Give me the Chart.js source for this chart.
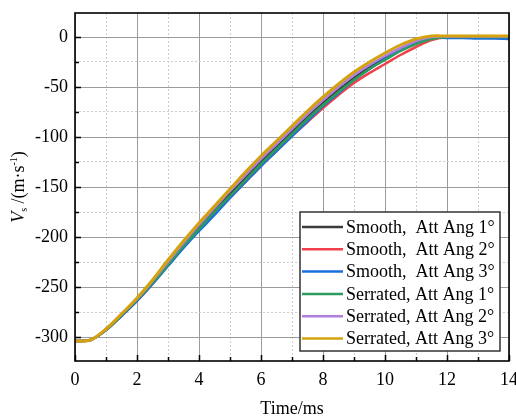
<!DOCTYPE html>
<html lang="en">
<head>
    <meta charset="UTF-8">
    <title>Vs vs Time</title>
    <style>
        html, body {
            margin: 0;
            padding: 0;
            background-color: white;
        }
        .chart-container {
            position: relative;
            width: 516px;
            height: 419px;
        }
    </style>
</head>
<body>
    <div class="chart-container">
        <canvas id="lineChart" width="516" height="419"></canvas>
    </div>

    <script src="https://cdn.jsdelivr.net/npm/chart.js"></script>
    <script>
        // Data
        const timeMs = [0, 0.5, 1, 1.5, 2, 2.5, 3, 3.5, 4, 4.5, 5, 5.5, 6, 6.5, 7, 7.5, 8, 8.5, 9, 9.5, 10, 10.5, 11, 11.5, 12, 12.5, 13, 13.5, 14];

        const smooth1 = [-304, -303, -293, -278, -263, -246, -227, -208, -190, -173, -157, -141, -125, -110, -95, -80, -66, -53, -41, -30, -21, -12, -5, -1, 0, 0, 0, 0, 0];
        const smooth2 = [-304, -303, -293, -279, -264, -247, -228, -210, -193, -177, -161, -145, -129, -114, -99, -85, -71, -58, -46, -36, -27, -18, -10, -3, 0, 0, 0, -0.5, -0.5];
        const smooth3 = [-304, -303, -293, -279, -264, -247, -229, -211, -194, -178, -161, -145, -129, -114, -99, -84, -69, -56, -43, -32, -22, -13, -5, -1, -1, -1, -1.5, -1.5, -2];
        const serrated1 = [-304, -303, -293, -278, -263, -246, -228, -209, -192, -175, -159, -143, -127, -112, -97, -82, -68, -55, -43, -32, -23, -14, -7, -2, 0, 0, 0, 0, 0];
        const serrated2 = [-304, -303, -292, -277, -262, -244, -225, -206, -188, -171, -154, -138, -122, -107, -92, -77, -63, -50, -38, -28, -19, -11, -4, 0, 0.5, 0.5, 0.5, 0.5, 0.5];
        const serrated3 = [-304, -303, -292, -277, -261, -243, -223, -204, -186, -169, -152, -135, -119, -104, -89, -74, -60, -47, -35, -25, -16, -8, -2, 1, 1, 1, 1, 1, 1];

        const seriesLabels = ['Smooth,  Att Ang 1°', 'Smooth,  Att Ang 2°', 'Smooth,  Att Ang 3°',
                              'Serrated, Att Ang 1°', 'Serrated, Att Ang 2°', 'Serrated, Att Ang 3°'];
        const seriesValues = [smooth1, smooth2, smooth3, serrated1, serrated2, serrated3];
        const seriesColors = ['#3c3c3c', '#f0404a', '#1a6fdf', '#2a9d5c', '#b07ee0', '#d4a20c'];

        const xMin = 0, xMax = 14;
        const yMin = -324, yMax = 24;

        const serif = '"Liberation Serif", "Times New Roman", serif';
        Chart.defaults.font.family = serif;
        Chart.defaults.color = '#000';

        // frame, inward ticks, axis titles and the boxed legend
        const decorPlugin = {
            id: 'decor',
            afterDraw(chart) {
                const { ctx, chartArea: a, scales: { x, y } } = chart;
                ctx.save();

                // inward tick marks
                ctx.strokeStyle = '#000';
                ctx.lineWidth = 1.5;
                ctx.beginPath();
                x.ticks.forEach(t => {
                    const px = Math.round(x.getPixelForValue(t.value)) + 0.5;
                    const len = t.value % 2 === 0 ? 6 : 4;
                    ctx.moveTo(px, a.bottom);
                    ctx.lineTo(px, a.bottom - len);
                });
                y.ticks.forEach(t => {
                    const py = Math.round(y.getPixelForValue(t.value)) + 0.5;
                    const len = t.value % 50 === 0 ? 6 : 4;
                    ctx.moveTo(a.left, py);
                    ctx.lineTo(a.left + len, py);
                });
                ctx.stroke();

                // frame
                ctx.lineWidth = 1.6;
                ctx.strokeRect(a.left, a.top, a.right - a.left, a.bottom - a.top);

                // x title
                ctx.fillStyle = '#000';
                ctx.font = '18px ' + serif;
                ctx.textAlign = 'center';
                ctx.textBaseline = 'alphabetic';
                ctx.fillText('Time/ms', (a.left + a.right) / 2, 414);

                // y title: V_s /(m·s^-1)
                const parts = [
                    { t: 'V', f: 'italic 18px ' + serif, dy: 0 },
                    { t: 's', f: '10px ' + serif, dy: 3 },
                    { t: ' /(m·s', f: '18px ' + serif, dy: 0 },
                    { t: '-1', f: '10px ' + serif, dy: -7 },
                    { t: ')', f: '18px ' + serif, dy: 0 }
                ];
                let total = 0;
                parts.forEach(p => { ctx.font = p.f; p.w = ctx.measureText(p.t).width; total += p.w; });
                ctx.translate(24, (a.top + a.bottom) / 2);
                ctx.rotate(-Math.PI / 2);
                ctx.textAlign = 'left';
                let cx = -total / 2;
                parts.forEach(p => {
                    ctx.font = p.f;
                    ctx.fillText(p.t, cx, p.dy);
                    cx += p.w;
                });
                ctx.setTransform(1, 0, 0, 1, 0, 0);

                // legend box
                const lx = 300, ly = 212, lw = 200, lh = 139;
                ctx.fillStyle = '#fff';
                ctx.fillRect(lx, ly, lw, lh);
                ctx.strokeStyle = '#333';
                ctx.lineWidth = 1.5;
                ctx.strokeRect(lx, ly, lw, lh);
                ctx.font = '18px ' + serif;
                ctx.textAlign = 'left';
                ctx.textBaseline = 'middle';
                chart.data.datasets.forEach((ds, i) => {
                    const ry = 227 + i * 22.3;
                    ctx.strokeStyle = ds.borderColor;
                    ctx.lineWidth = 2.5;
                    ctx.beginPath();
                    ctx.moveTo(302, ry);
                    ctx.lineTo(343, ry);
                    ctx.stroke();
                    ctx.fillStyle = '#000';
                    ctx.fillText(ds.label, 346, ry + 1);
                });
                ctx.restore();
            }
        };

        const ctx = document.getElementById('lineChart').getContext('2d');
        const lineChart = new Chart(ctx, {
            type: 'line',
            data: {
                datasets: seriesLabels.map((label, i) => ({
                    label: label,
                    data: timeMs.map((t, j) => ({ x: t, y: seriesValues[i][j] })),
                    borderColor: seriesColors[i],
                    borderWidth: i === 5 ? 3 : 2.5,
                    pointRadius: 0,
                    fill: false,
                    tension: 0.35,
                    order: 5 - i
                }))
            },
            options: {
                responsive: false,
                animation: false,
                layout: { padding: { top: 13, right: 7, left: 0, bottom: 0 } },
                plugins: {
                    legend: { display: false },
                    tooltip: { enabled: false }
                },
                scales: {
                    x: {
                        type: 'linear',
                        min: xMin,
                        max: xMax,
                        afterFit: s => { s.height = 58; s.paddingLeft = 0; s.paddingRight = 0; },
                        ticks: {
                            stepSize: 1,
                            autoSkip: false,
                            maxRotation: 0,
                            padding: 8,
                            font: { size: 18 },
                            callback: v => (v % 2 === 0 ? v : '')
                        },
                        grid: {
                            drawTicks: false,
                            color: c => (c.tick && c.tick.value % 2 !== 0 ? '#cdcdcd' : '#9c9c9c'),
                            lineWidth: 1
                        },
                        border: {
                            display: false,
                            dash: c => (c.tick && c.tick.value % 2 !== 0 ? [2, 2] : [])
                        }
                    },
                    y: {
                        type: 'linear',
                        min: yMin,
                        max: yMax,
                        afterFit: s => { s.width = 75; s.paddingTop = 0; s.paddingBottom = 0; },
                        afterBuildTicks: s => { s.ticks = s.ticks.filter(t => t.value % 25 === 0); },
                        ticks: {
                            stepSize: 25,
                            autoSkip: false,
                            padding: 7,
                            font: { size: 18 },
                            callback: v => (v % 50 === 0 ? v : '')
                        },
                        grid: {
                            drawTicks: false,
                            color: c => (c.tick && c.tick.value % 50 !== 0 ? '#cdcdcd' : '#9c9c9c'),
                            lineWidth: 1
                        },
                        border: {
                            display: false,
                            dash: c => (c.tick && c.tick.value % 50 !== 0 ? [2, 2] : [])
                        }
                    }
                }
            },
            plugins: [decorPlugin]
        });
    </script>
</body>
</html>
